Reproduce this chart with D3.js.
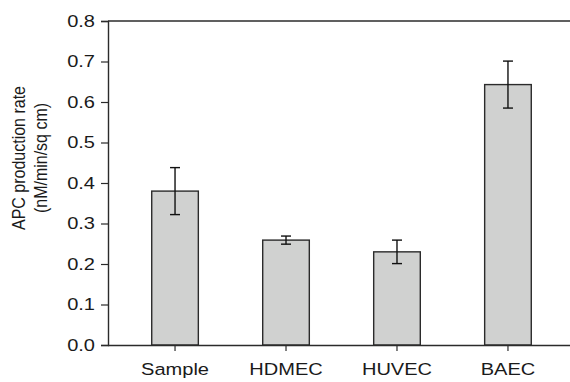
<!DOCTYPE html>
<html>
<head>
<meta charset="utf-8">
<script src="https://cdn.jsdelivr.net/npm/d3@7"></script>
<style>
  html, body { margin: 0; padding: 0; background: #fff; }
  svg { display: block; }
  text { font-family: "Liberation Sans", Arial, sans-serif; fill: #1a1a1a; }
</style>
</head>
<body>
<svg id="chart" width="570" height="382"></svg>
<script>
const categories = ["Sample", "HDMEC", "HUVEC", "BAEC"];
const values = [0.38, 0.259, 0.23, 0.643];
const errors = [0.058, 0.01, 0.029, 0.058];
const yTicks = [0.0, 0.1, 0.2, 0.3, 0.4, 0.5, 0.6, 0.7, 0.8];
const yLabelLines = ["APC production rate", "(nM/min/sq cm)"];

const svg = d3.select("#chart");
const mLeft = 108, mRight = 575, mTop = 21, mBottom = 345;
const sx = 1.18; // horizontal stretch of glyphs in reference

const x = d3.scaleBand().domain(categories).range([mLeft, mRight])
  .paddingInner(0.58).paddingOuter(0.394);
const y = d3.scaleLinear().domain([0, 0.8]).range([mBottom, mTop]);

const ink = "#2b2b2b";

// bars
svg.append("g").selectAll("rect").data(categories).join("rect")
  .attr("x", d => x(d))
  .attr("y", (d, i) => y(values[i]))
  .attr("width", x.bandwidth())
  .attr("height", (d, i) => y(0) - y(values[i]))
  .attr("fill", "#d0d1d0")
  .attr("stroke", ink)
  .attr("stroke-width", 1.4);

// error bars
const eb = svg.append("g").attr("stroke", "#111").attr("stroke-width", 1.4).attr("fill", "none");
categories.forEach((c, i) => {
  const cx = x(c) + x.bandwidth() / 2;
  const hi = y(values[i] + errors[i]), lo = y(values[i] - errors[i]);
  eb.append("line").attr("x1", cx).attr("x2", cx).attr("y1", hi).attr("y2", lo);
  eb.append("line").attr("x1", cx - 5).attr("x2", cx + 5).attr("y1", hi).attr("y2", hi);
  eb.append("line").attr("x1", cx - 5).attr("x2", cx + 5).attr("y1", lo).attr("y2", lo);
});

// frame line on top
svg.append("line").attr("x1", mLeft).attr("x2", 570).attr("y1", mTop).attr("y2", mTop)
  .attr("stroke", ink).attr("stroke-width", 1.4);

// y axis
const yAxis = svg.append("g").attr("transform", `translate(${mLeft},0)`)
  .call(d3.axisLeft(y).tickValues(yTicks).tickFormat(d3.format(".1f")).tickSizeOuter(0).tickSize(7).tickPadding(6));
yAxis.select(".domain").attr("stroke", ink).attr("stroke-width", 1.4);
yAxis.selectAll(".tick line").attr("stroke", ink).attr("stroke-width", 1.2);
yAxis.selectAll(".tick text")
  .attr("font-size", 17)
  .attr("fill", "#1a1a1a")
  .attr("font-family", "Liberation Sans, Arial, sans-serif")
  .each(function() {
    const t = d3.select(this);
    const tx = +t.attr("x");
    t.attr("x", null).attr("transform", `translate(${tx},0) scale(${sx},1)`);
  });

// x axis
const xAxis = svg.append("g").attr("transform", `translate(0,${mBottom})`)
  .call(d3.axisBottom(x).tickSizeOuter(0).tickSize(6).tickPadding(10));
xAxis.select(".domain").attr("stroke", ink).attr("stroke-width", 1.4)
  .attr("d", `M${mLeft},0.5H570`);
xAxis.selectAll(".tick line").attr("stroke", ink).attr("stroke-width", 1.2);
xAxis.selectAll(".tick text")
  .attr("font-size", 17)
  .attr("fill", "#1a1a1a")
  .attr("font-family", "Liberation Sans, Arial, sans-serif")
  .each(function() {
    const t = d3.select(this);
    t.attr("y", null).attr("dy", null)
     .attr("transform", `translate(0,30) scale(${sx},1)`);
  });

// y label
const yl = svg.append("g").attr("transform", `translate(0,158)`);
yLabelLines.forEach((s, i) => {
  yl.append("text")
    .attr("transform", `translate(${25 + i * 21.5},0) scale(${sx},1) rotate(-90)`)
    .attr("text-anchor", "middle")
    .attr("font-size", 16)
    .text(s);
});
</script>
</body>
</html>
